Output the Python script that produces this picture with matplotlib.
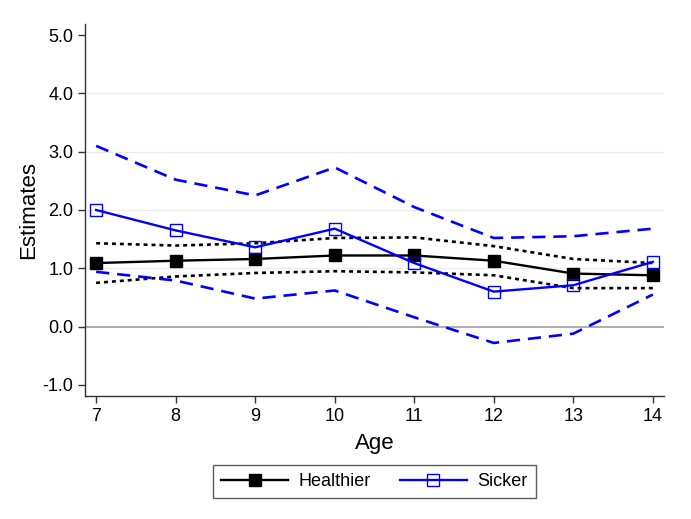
import matplotlib.pyplot as plt

plt.rcParams["font.family"] = ["Liberation Sans", "DejaVu Sans"]

age = [7, 8, 9, 10, 11, 12, 13, 14]

healthier = [1.09, 1.13, 1.16, 1.22, 1.22, 1.13, 0.91, 0.88]
healthier_hi = [1.43, 1.39, 1.43, 1.52, 1.53, 1.38, 1.16, 1.09]
healthier_lo = [0.75, 0.86, 0.92, 0.95, 0.93, 0.88, 0.66, 0.66]

sicker = [2.00, 1.65, 1.36, 1.68, 1.09, 0.60, 0.71, 1.11]
sicker_hi = [3.10, 2.52, 2.25, 2.73, 2.05, 1.52, 1.55, 1.68]
sicker_lo = [0.94, 0.79, 0.48, 0.62, 0.16, -0.28, -0.12, 0.55]

yticks = [-1, 0, 1, 2, 3, 4, 5]

fig = plt.figure(figsize=(6.91, 5.19), dpi=100)
ax = fig.add_axes([85 / 691, 1 - 396 / 519, (664 - 85) / 691, (396 - 24) / 519])

# grid and zero line
for y in [1, 2, 3, 4]:
    ax.axhline(y, color="#ebebeb", lw=1, zorder=0)
ax.axhline(0, color="#a0a0a0", lw=1.2, zorder=1)

# confidence bands
ax.plot(age, healthier_hi, color="black", lw=1.9, ls=(0, (1.5, 1.5)), zorder=2)
ax.plot(age, healthier_lo, color="black", lw=1.9, ls=(0, (1.5, 1.5)), zorder=2)
ax.plot(age, sicker_hi, color="#0000ff", lw=1.9, ls=(0, (5, 3)), zorder=2)
ax.plot(age, sicker_lo, color="#0000ff", lw=1.9, ls=(0, (5, 3)), zorder=2)

# point estimates
ax.plot(age, healthier, color="black", lw=1.7, marker="s", ms=8.5,
        mfc="black", mec="black", label="Healthier", zorder=3)
ax.plot(age, sicker, color="#0000ff", lw=1.7, marker="s", ms=8,
        mfc="none", mec="#0000ff", mew=1.0, label="Sicker", zorder=4)

ax.set_xlim(6.86, 14.14)
ax.set_ylim(-1.19, 5.19)
ax.set_xticks(age)
ax.set_yticks(yticks)
ax.set_yticklabels([f"{v:.1f}" for v in yticks])
ax.tick_params(labelsize=13, direction="out", length=5, color="#333333", width=1)

for s in ["top", "right"]:
    ax.spines[s].set_visible(False)
for s in ["left", "bottom"]:
    ax.spines[s].set_color("#333333")
    ax.spines[s].set_linewidth(1)

ax.set_xlabel("Age", fontsize=16, labelpad=6)
ax.set_ylabel("Estimates", fontsize=16, labelpad=2)

leg = ax.legend(loc="upper center", bbox_to_anchor=(0.5, -0.185), ncol=2,
                fontsize=13, handlelength=3.7, frameon=True, fancybox=False,
                edgecolor="#333333", borderpad=0.45, columnspacing=1.6,
                handletextpad=0.6, borderaxespad=0)
leg.get_frame().set_linewidth(1)

plt.savefig("out.png", dpi=100)
